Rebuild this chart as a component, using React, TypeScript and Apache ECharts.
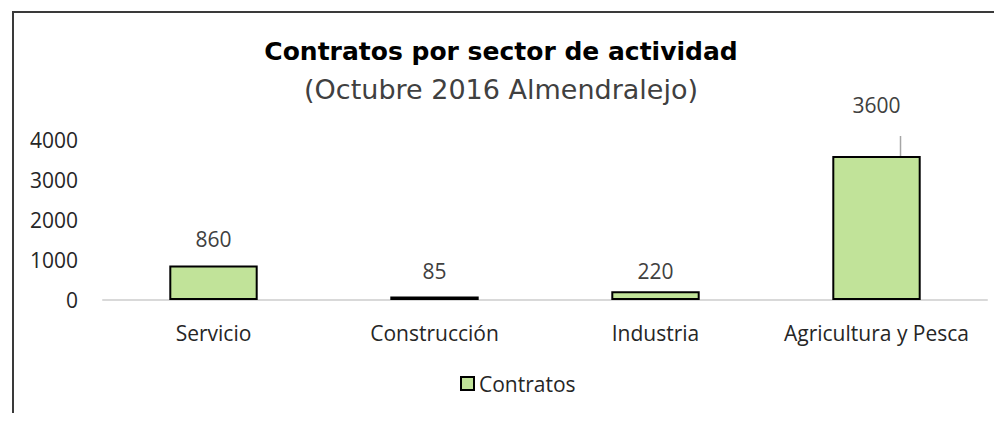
import React, { useEffect, useRef } from "react";
import * as echarts from "echarts";

const categories = ["Servicio", "Construcción", "Industria", "Agricultura y Pesca"];
const contratos = [860, 85, 220, 3600];
const labelDistances = [16, 15, 10, 41];
const yTicks = { min: 0, max: 4000, interval: 1000 };
const titleText = "Contratos por sector de actividad";
const subtitleText = "(Octubre 2016 Almendralejo)";
const seriesName = "Contratos";

export default function App() {
  const ref = useRef<HTMLDivElement>(null);
  useEffect(() => {
    const chart = echarts.init(ref.current!, null, { renderer: "svg" });
    const font = "'Open Sans', 'Noto Sans', sans-serif";
    const titleFont = "'DejaVu Sans', sans-serif";
    chart.setOption({
      animation: false,
      backgroundColor: "#ffffff",
      title: [
        {
          text: titleText,
          left: "center",
          top: 34,
          textStyle: { fontFamily: titleFont, fontSize: 25, fontWeight: "bold", color: "#000" },
        },
        {
          text: subtitleText,
          left: "center",
          top: 71,
          textStyle: { fontFamily: titleFont, fontSize: 27, fontWeight: "normal", color: "#404040" },
        },
      ],
      graphic: [
        {
          type: "rect",
          shape: { x: 13, y: 12, width: 1200, height: 600 },
          style: { fill: "none", stroke: "#3a3a3a", lineWidth: 2 },
          silent: true,
        },
      ],
      legend: {
        bottom: 22,
        left: 455,
        itemWidth: 13,
        itemHeight: 13,
        itemGap: 6,
        textStyle: { fontFamily: font, fontSize: 21, color: "#262626" },
        data: [{ name: seriesName, icon: "rect" }],
      },
      grid: { left: 103, right: 15, top: 140, bottom: 121 },
      xAxis: {
        type: "category",
        data: categories,
        axisLine: { lineStyle: { color: "#d9d9d9", width: 2 } },
        axisTick: { show: false },
        axisLabel: { fontFamily: font, fontSize: 21, color: "#262626", margin: 22, interval: 0 },
      },
      yAxis: {
        type: "value",
        min: yTicks.min,
        max: yTicks.max,
        interval: yTicks.interval,
        splitLine: { show: false },
        axisLine: { show: false },
        axisTick: { show: false },
        axisLabel: {
          fontFamily: font,
          fontSize: 21,
          color: "#262626",
          margin: 25,
          formatter: (v: number) => String(v),
        },
      },
      series: [
        {
          name: seriesName,
          type: "bar",
          barWidth: "40%",
          itemStyle: { color: "#c1e399", borderColor: "#000", borderWidth: 2 },
          data: contratos.map((v, i) => ({
            value: v,
            label: { distance: labelDistances[i] },
            labelLine: { show: i === 3, lineStyle: { color: "#a6a6a6", width: 1.5 } },
          })),
          label: {
            show: true,
            position: "top",
            fontFamily: font,
            fontSize: 21,
            color: "#404040",
          },
        },
      ],
    });
    return () => chart.dispose();
  }, []);
  return <div ref={ref} style={{ width: 1002, height: 421, margin: -8 }} />;
}
